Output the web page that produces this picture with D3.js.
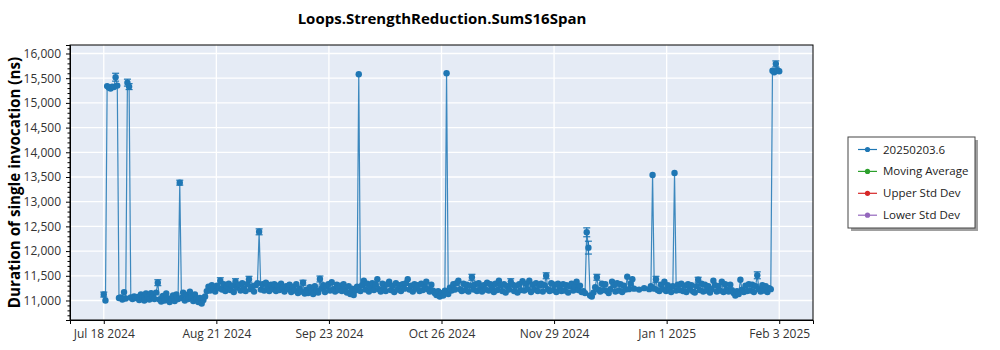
<!DOCTYPE html>
<html>
<head>
<meta charset="utf-8">
<script src="https://cdn.jsdelivr.net/npm/d3@7"></script>
<style>
  body { margin: 0; background: #fff; }
  text { font-family: "Segoe UI", "Open Sans", "Noto Sans", sans-serif; }
</style>
</head>
<body>
<svg id="chart" width="1000" height="350"></svg>
<script>
// Benchmark history: Loops.StrengthReduction.SumS16Span
const chartTitle = "Loops.StrengthReduction.SumS16Span";
const yAxisTitle = "Duration of single invocation (ns)";

// Runs are spaced every 12 hours from the first to the last run (null = no run in that slot)
const firstRun = new Date(2024, 6, 18, 16);
const lastRun = new Date(2025, 1, 3, 16);
const runStepHours = 12;

// Duration of single invocation (ns) per run slot
const durations = [
  11120, 11000, 15340, 15310, 15290, 15330, 15320, 15520, 15350, 11050, 11060, 11020, 11170, 11040, 15410, 15330, 11060, 11030, 11080, 11050,
  11070, 11010, 11120, 11050, 11000, 11140, 11070, 11020, 11150, 11080, 11030, 11160, 11360, 11020, 10980, 11090, 11000, 11140, 11040, 10970,
  11040, 11100, 10990, 11120, 11030, 13385, 11050, 11160, 11000, 11110, 11030, 11180, 11070, 10990, 11120, 11040, 10970, 11050, 10940, 11010,
  11080, 11190, 11280, 11200, 11310, 11230, 11180, 11300, 11250, 11400, 11220, 11330, 11190, 11290, 11340, 11210, 11300, 11170, 11380, 11260,
  11320, 11200, 11350, 11240, 11190, 11330, 11430, 11230, 11290, 11180, 11310, 11350, 12390, 11220, 11330, 11200, 11360, 11250, 11190, 11320,
  11230, 11330, 11190, 11300, 11210, 11340, 11260, 11180, 11290, 11230, 11320, 11170, 11280, 11200, 11330, 11150, 11240, 11180, 11360, 11140,
  11220, 11150, 11270, 11190, 11130, 11290, 11200, 11160, 11435, 11240, 11310, 11170, 11280, 11330, 11200, 11370, 11230, 11180, 11320, 11210,
  11300, 11190, 11330, 11220, 11160, 11290, 11130, 11240, 11110, 11200, 11280, 15580, 11190, 11310, 11400, 11220, 11340, 11180, 11290, 11350,
  11210, 11320, 11430, 11230, 11180, 11340, 11250, 11190, 11330, 11380, 11210, 11300, 11170, 11350, 11220, 11310, 11190, 11330, 11240, 11350,
  11430, 11220, 11300, 11180, 11330, 11240, 11310, 11190, 11340, 11210, 11290, 11380, 11230, 11180, 11320, 11200, 11150, 11110, 11190, 11080,
  11150, 11100, 11200, 15600, 11130, 11260, 11200, 11330, 11220, 11350, 11400, 11230, 11190, 11340, 11210, 11320, 11180, 11300, 11470, 11220,
  11330, 11190, 11350, 11240, 11180, 11310, 11220, 11360, 11200, 11330, 11250, 11170, 11340, 11210, 11400, 11300, 11190, 11330, 11160, 11290,
  11220, 11380, 11320, 11190, 11300, 11160, 11330, 11210, 11390, 11200, 11340, 11230, 11400, 11170, 11320, 11220, 11350, 11190, 11300, 11340,
  11180, 11310, 11500, 11230, 11190, 11350, 11210, 11320, 11170, 11340, 11240, 11190, 11330, 11200, 11310, 11160, 11290, 11340, 11200, 11280,
  11380, 11210, 11300, 11170, 11190, 11150, 12380, 12070, 11100, 11080, 11160, 11270, 11470, 11220, 11180, 11340, 11210, 11330, 11190, 11150,
  11230, 11380, 11310, 11180, 11350, 11200, 11330, 11170, 11300, 11220, 11480, 11230, 11340, 11430, 11240, null, null, 11220, null, null,
  11250, null, null, 11230, 11290, 13540, 11240, 11430, 11210, 11190, 11320, 11230, 11380, 11190, 11310, 11220, 11170, 11290, 13580, 11200,
  11320, 11210, 11340, 11190, 11300, 11170, 11330, 11220, 11310, 11180, 11160, 11290, 11420, 11210, 11340, 11180, 11320, 11200, 11290, 11160,
  11230, 11400, 11310, 11180, 11290, 11200, 11380, 11170, 11330, 11220, 11180, 11320, 11210, 11150, 11100, 11190, 11130, 11420, 11220, 11170,
  11300, 11190, 11330, 11200, 11320, 11170, 11290, 11510, 11230, 11180, 11310, 11200, 11290, 11170, 11250, 11230, 15650, 15620, 15790, 15660,
  15640
];

// Runs that report a visible spread (slot index and +/- error in ns)
const errorSlots = [0, 7, 14, 15, 32, 45, 69, 78, 86, 92, 118, 128, 218, 241, 262, 286, 287, 292, 327, 352, 387, 398];
const errorSizes = [50, 80, 70, 60, 60, 50, 60, 60, 60, 60, 50, 60, 60, 60, 60, 90, 130, 60, 60, 50, 70, 60];

const xTickLabels = ["Jul 18 2024", "Aug 21 2024", "Sep 23 2024", "Oct 26 2024", "Nov 29 2024", "Jan 1 2025", "Feb 3 2025"];
const yTickValues = [11000, 11500, 12000, 12500, 13000, 13500, 14000, 14500, 15000, 15500, 16000];

const legendNames = ["20250203.6", "Moving Average", "Upper Std Dev", "Lower Std Dev"];
const legendColors = ["#1f77b4", "#2ca02c", "#d62728", "#9467bd"];

// ---- layout ----
const plot = { left: 70, right: 813, top: 45, bottom: 320 };
const seriesColor = legendColors[0];

const svg = d3.select("#chart");
svg.append("rect").attr("width", 1000).attr("height", 350).attr("fill", "#fff");

const runs = durations
  .map((v, i) => ({ t: new Date(+firstRun + i * runStepHours * 3600e3), v, i }))
  .filter(d => d.v != null);

const span = lastRun - firstRun;
const x = d3.scaleTime()
  .domain([new Date(+firstRun - span * 0.05), new Date(+lastRun + span * 0.05)])
  .range([plot.left, plot.right]);
const y = d3.scaleLinear()
  .domain([10605, 16172])
  .range([plot.bottom, plot.top]);

const xTickValues = xTickLabels.map((_, k) => new Date(+firstRun + k * span / (xTickLabels.length - 1)));

// plot background and grid
svg.append("rect")
  .attr("x", plot.left).attr("y", plot.top)
  .attr("width", plot.right - plot.left).attr("height", plot.bottom - plot.top)
  .attr("fill", "#e5ebf5");

const grid = svg.append("g").attr("stroke", "#fff").attr("stroke-width", 1.3);
grid.selectAll("line.h").data(yTickValues).join("line")
  .attr("x1", plot.left).attr("x2", plot.right)
  .attr("y1", d => y(d)).attr("y2", d => y(d));
grid.selectAll("line.v").data(xTickValues).join("line")
  .attr("y1", plot.top).attr("y2", plot.bottom)
  .attr("x1", d => x(d)).attr("x2", d => x(d));

// clip marks to the plot frame
svg.append("clipPath").attr("id", "plotClip").append("rect")
  .attr("x", plot.left).attr("y", plot.top)
  .attr("width", plot.right - plot.left).attr("height", plot.bottom - plot.top);
const marks = svg.append("g").attr("clip-path", "url(#plotClip)");

// connecting line
marks.append("path")
  .datum(runs)
  .attr("fill", "none")
  .attr("stroke", seriesColor)
  .attr("stroke-width", 1.2)
  .attr("stroke-opacity", 0.85)
  .attr("d", d3.line().x(d => x(d.t)).y(d => y(d.v)));

// error bars
const errRuns = errorSlots.map((s, k) => ({ t: new Date(+firstRun + s * runStepHours * 3600e3), v: durations[s], e: errorSizes[k] }));
const eb = marks.append("g").attr("stroke", seriesColor).attr("stroke-width", 1.2);
errRuns.forEach(d => {
  const cx = x(d.t), y0 = y(d.v - d.e), y1 = y(d.v + d.e);
  eb.append("line").attr("x1", cx).attr("x2", cx).attr("y1", y0).attr("y2", y1);
  eb.append("line").attr("x1", cx - 3.5).attr("x2", cx + 3.5).attr("y1", y0).attr("y2", y0);
  eb.append("line").attr("x1", cx - 3.5).attr("x2", cx + 3.5).attr("y1", y1).attr("y2", y1);
});

// markers
marks.selectAll("circle").data(runs).join("circle")
  .attr("cx", d => x(d.t)).attr("cy", d => y(d.v))
  .attr("r", 3.2)
  .attr("fill", seriesColor);

// frame
svg.append("rect")
  .attr("x", plot.left).attr("y", plot.top)
  .attr("width", plot.right - plot.left).attr("height", plot.bottom - plot.top)
  .attr("fill", "none").attr("stroke", "#000").attr("stroke-width", 1);

// axes
const yAxis = d3.axisLeft(y).tickValues(yTickValues).tickSize(4).tickPadding(5).tickFormat(d3.format(","));
const gy = svg.append("g").attr("transform", `translate(${plot.left},0)`).call(yAxis);
const yMinor = d3.range(10700, 16200, 100).filter(v => v % 500 !== 0);
svg.append("g").attr("transform", `translate(${plot.left},0)`)
  .call(d3.axisLeft(y).tickValues(yMinor).tickSize(2.5).tickFormat(""))
  .call(g => g.select(".domain").remove());

const xAxis = d3.axisBottom(x).tickValues(xTickValues).tickSize(4).tickPadding(5)
  .tickFormat((d, k) => xTickLabels[k]);
const gx = svg.append("g").attr("transform", `translate(0,${plot.bottom})`).call(xAxis);

[gx, gy].forEach(g => {
  g.select(".domain").attr("stroke", "#000");
  g.selectAll(".tick text").attr("font-size", 12).attr("fill", "#333")
    .style("font-family", '"Segoe UI", "Open Sans", "Noto Sans", sans-serif');
});

// titles
svg.append("text")
  .attr("x", 442).attr("y", 24)
  .attr("text-anchor", "middle")
  .attr("font-size", 15).attr("font-weight", "bold").attr("fill", "#000")
  .text(chartTitle);

svg.append("text")
  .attr("transform", `translate(20,${(plot.top + plot.bottom) / 2}) rotate(-90)`)
  .attr("text-anchor", "middle")
  .attr("font-size", 15.2).attr("font-weight", "bold").attr("fill", "#000")
  .text(yAxisTitle);

// legend
const lg = svg.append("g").attr("transform", "translate(848,137)");
lg.append("rect").attr("x", 3).attr("y", 3).attr("width", 127).attr("height", 91).attr("fill", "#a0a0a0");
lg.append("rect").attr("width", 127).attr("height", 91).attr("fill", "#fff").attr("stroke", "#444").attr("stroke-width", 1);
const items = lg.selectAll("g.item").data(legendNames).join("g")
  .attr("transform", (d, k) => `translate(0,${12.5 + k * 21.9})`);
items.append("line").attr("x1", 10).attr("x2", 29).attr("y1", 0).attr("y2", 0)
  .attr("stroke", (d, k) => legendColors[k]).attr("stroke-width", 1.2);
items.append("circle").attr("cx", 19.5).attr("cy", 0).attr("r", 2.6)
  .attr("fill", (d, k) => legendColors[k]);
items.append("text").attr("x", 35).attr("y", 0).attr("dy", "0.35em")
  .attr("font-size", 11.5).attr("fill", "#222").text(d => d);
</script>
</body>
</html>
